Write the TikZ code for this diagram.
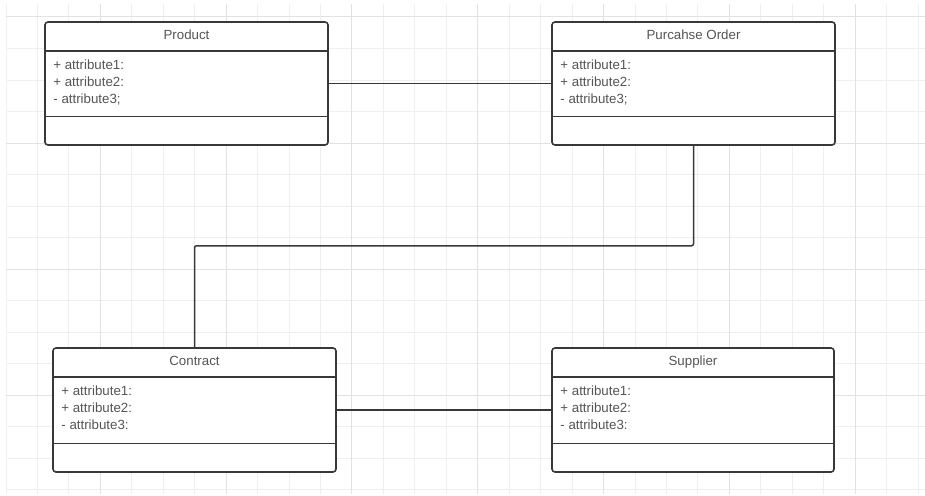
\documentclass[tikz,border=0pt]{standalone}
\usepackage{fontspec}
\setmainfont{Liberation Sans}
\usetikzlibrary{calc}

\definecolor{gridminor}{HTML}{EFEFEF}
\definecolor{gridmajor}{HTML}{E2E2E2}
\definecolor{umlline}{HTML}{383838}
\definecolor{umltext}{HTML}{555555}

\tikzset{
  umlbox/.style={draw=umlline, line width=1.6pt, rounded corners=3pt,
    minimum width=283pt, minimum height=123pt, inner sep=0pt, fill=white},
  divider/.style={draw=umlline, line width=1.5pt},
  assoc/.style={draw=umlline, line width=1.5pt, rounded corners=2pt},
  umltitle/.style={anchor=base, inner sep=0pt, text=umltext,
    font=\fontsize{13.3}{16}\selectfont},
  umlattr/.style={anchor=base west, inner sep=0pt, text=umltext,
    font=\fontsize{13.3}{16}\selectfont},
}

\begin{document}
\begin{tikzpicture}[x=1pt, y=-1pt]
  \useasboundingbox (0,0) rectangle (925,495);
  \fill[white] (0,0) rectangle (925,495);

  % background grid
  \foreach \i in {0,...,29}
    \draw[gridminor, line width=1pt] ({6+31.45*\i},4) -- ({6+31.45*\i},494);
  \foreach \j in {0,...,15}
    \draw[gridminor, line width=1pt] (6,{17+31.5*\j}) -- (925,{17+31.5*\j});
  \foreach \i in {3,7,...,27}
    \draw[gridmajor, line width=1pt] ({6+31.45*\i},4) -- ({6+31.45*\i},494);
  \foreach \j in {0,4,8,12}
    \draw[gridmajor, line width=1pt] (6,{17+31.5*\j}) -- (925,{17+31.5*\j});

  % class boxes
  \node[umlbox] (product)  at (186.5,83.5) {};
  \node[umlbox] (porder)   at (693.5,83.5) {};
  \node[umlbox, minimum height=124pt] (contract) at (194.5,410) {};
  \node[umlbox, minimum height=124pt, minimum width=282pt] (supplier) at (693,410) {};

  % associations
  \draw[assoc] (product.east) -- (porder.west);
  \draw[assoc] (contract.east) -- (supplier.west);
  \draw[assoc] (porder.south) -- ++(0,100) -| (contract.north);

  % compartments and labels
  \foreach \c/\t/\a/\b/\d in {
      product/Product/{+ attribute1:}/{+ attribute2:}/{- attribute3;},
      porder/Purcahse Order/{+ attribute1:}/{+ attribute2:}/{- attribute3;},
      contract/Contract/{+ attribute1:}/{+ attribute2:}/{- attribute3:},
      supplier/Supplier/{+ attribute1:}/{+ attribute2:}/{- attribute3:}} {
    \draw[divider] ($(\c.north west)+(0,30)$) -- ($(\c.north east)+(0,30)$);
    \draw[divider] ($(\c.south west)+(0,-29.5)$) -- ($(\c.south east)+(0,-29.5)$);
    \node[umltitle] (\c-title) at ($(\c.north)+(0,18)$) {\t};
    \node[umlattr] (\c-a1) at ($(\c.north west)+(9,48)$) {\a};
    \node[umlattr] (\c-a2) at ($(\c.north west)+(9,65)$) {\b};
    \node[umlattr] (\c-a3) at ($(\c.north west)+(9,82)$) {\d};
  }
\end{tikzpicture}
\end{document}
